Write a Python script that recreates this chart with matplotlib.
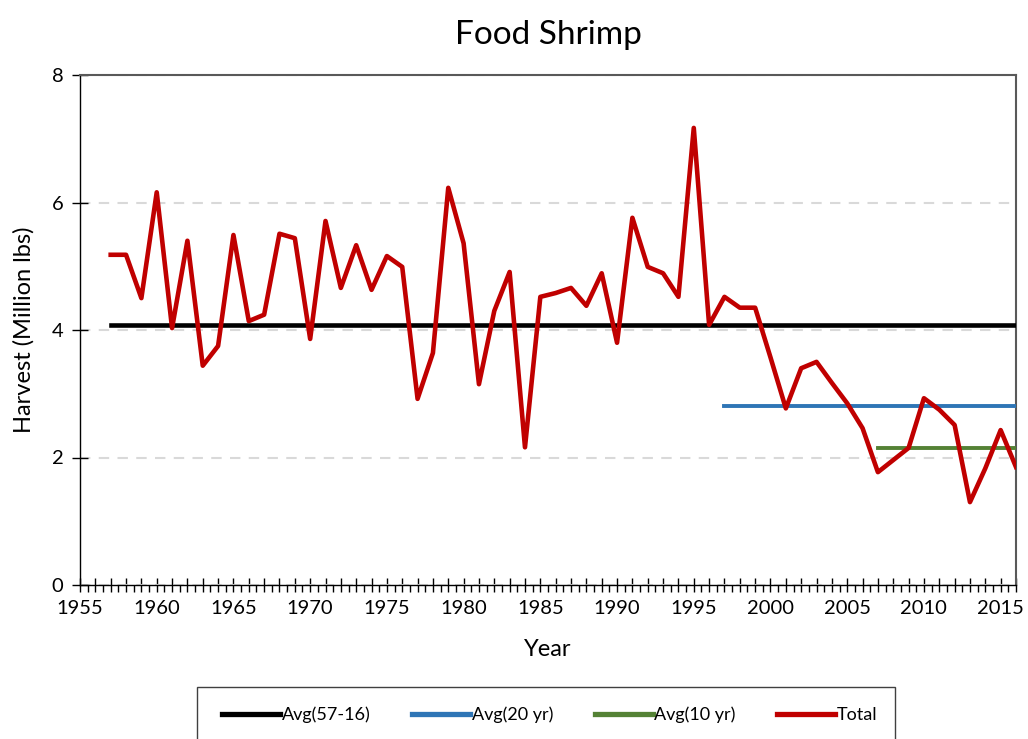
import matplotlib
matplotlib.use("Agg")
import matplotlib.pyplot as plt
from matplotlib.ticker import MultipleLocator, FuncFormatter
from matplotlib.patches import Rectangle

plt.rcParams['font.family'] = ['Lato', 'DejaVu Sans']

# harvest values (million lbs)
years = list(range(1957, 2017))
total = [5.18, 5.18, 4.50, 6.16, 4.03, 5.40, 3.44, 3.75, 5.49, 4.14,
         4.24, 5.51, 5.44, 3.86, 5.71, 4.66, 5.33, 4.63, 5.16, 4.99,
         2.92, 3.64, 6.23, 5.36, 3.15, 4.30, 4.91, 2.16, 4.52, 4.58,
         4.66, 4.38, 4.89, 3.80, 5.76, 4.99, 4.89, 4.52, 7.17, 4.08,
         4.52, 4.35, 4.35, 3.57, 2.77, 3.40, 3.50, 3.17, 2.85, 2.46,
         1.77, 1.96, 2.15, 2.93, 2.75, 2.51, 1.30, 1.83, 2.43, 1.85]

avg_all_years = [1957, 2016]
avg_all = [4.08, 4.08]
avg20_years = [1997, 2016]
avg20 = [2.81, 2.81]
avg10_years = [2007, 2016]
avg10 = [2.15, 2.15]

fig = plt.figure(figsize=(10.28, 7.39), dpi=100)
ax = fig.add_axes([80/1028, 1 - 585/739, 936/1028, 510/739])

ax.plot(avg_all_years, avg_all, color='black', lw=3.3, label='Avg(57-16)', zorder=3)
ax.plot(avg20_years, avg20, color='#2e75b6', lw=2.8, label='Avg(20 yr)', zorder=3)
ax.plot(avg10_years, avg10, color='#548235', lw=2.8, label='Avg(10 yr)', zorder=3)
ax.plot(years, total, color='#c00000', lw=3.3, label='Total', zorder=4)

ax.set_xlim(1955, 2016)
ax.set_ylim(0, 8)
ax.xaxis.set_major_locator(MultipleLocator(1))
ax.xaxis.set_minor_locator(MultipleLocator(0.5))
ax.xaxis.set_major_formatter(FuncFormatter(lambda v, p: f"{int(round(v))}" if round(v) % 5 == 0 else ""))
ax.yaxis.set_major_locator(MultipleLocator(2))
ax.tick_params(axis='x', which='major', direction='inout', length=10, width=1, labelsize=14.5, pad=6)
ax.tick_params(axis='x', which='minor', direction='out', length=5, width=1)
ax.tick_params(axis='y', direction='inout', length=12, width=1, labelsize=14.5, pad=6)

ax.grid(axis='y', color='#d9d9d9', ls=(0, (5, 4)), lw=1.5, zorder=0)
ax.set_axisbelow(True)
for s in ['top', 'right']:
    ax.spines[s].set_color('#595959')
    ax.spines[s].set_linewidth(1.5)
for s in ['left', 'bottom']:
    ax.spines[s].set_color('black')
    ax.spines[s].set_linewidth(1)

ax.set_title('Food Shrimp', fontsize=24, pad=22)
ax.set_xlabel('Year', fontsize=17, labelpad=16)
ax.set_ylabel('Harvest (Million lbs)', fontsize=17, labelpad=12)

# legend box, cut off by the bottom edge like the original
fig.patches.append(Rectangle((197/1028, -0.05), 698/1028, 0.05 + 52/739,
                             transform=fig.transFigure, fill=False,
                             edgecolor='#404040', lw=1))
leg = fig.legend(loc='center', bbox_to_anchor=(550/1028, 1 - 715/739), ncol=4,
                 frameon=False, fontsize=13, handlelength=3.2, handletextpad=0.1,
                 columnspacing=2.3)
for h in leg.legend_handles:
    h.set_linewidth(3.8)

fig.savefig('out.png', dpi=100)
